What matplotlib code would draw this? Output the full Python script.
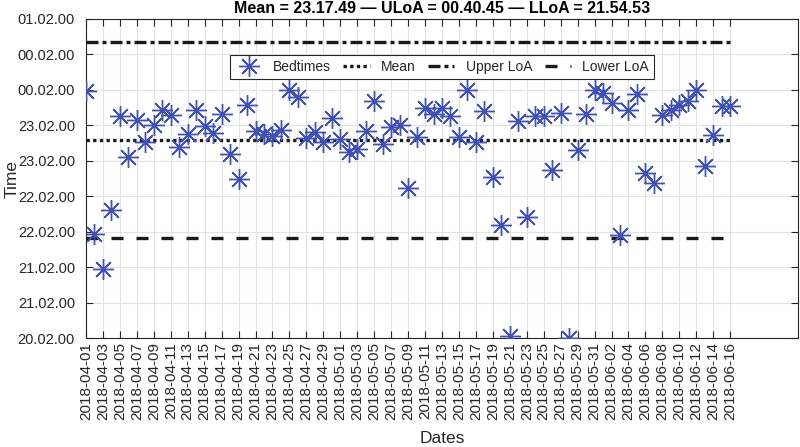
import numpy as np
import matplotlib
matplotlib.use("Agg")
import matplotlib.pyplot as plt
import matplotlib.dates as mdates

plt.rcParams['font.family'] = ['Liberation Sans', 'DejaVu Sans']

# ---- data ----
start_date = np.datetime64('2018-04-01')
end_date = np.datetime64('2018-06-16')
dates = np.arange(start_date, end_date + np.timedelta64(1, 'D'))

# bedtime in hours (values >= 24 are after midnight)
bedtimes = [
    23.98, 21.97, 21.48, 22.31, 23.63, 23.06, 23.58, 23.26, 23.51, 23.72,
    23.65, 23.20, 23.38, 23.72, 23.49, 23.385, 23.66, 23.09, 22.75, 23.785,
    23.42, 23.38, 23.35, 23.44, 24.00, 23.90, 23.32, 23.40, 23.27, 23.60,
    23.31, 23.13, 23.16, 23.42, 23.85, 23.23, 23.47, 23.50, 22.62, 23.33,
    23.74, 23.66, 23.75, 23.63, 23.34, 24.00, 23.27, 23.70, 22.77, 22.09,
    20.53, 23.56, 22.20, 23.63, 23.63, 22.87, 23.68, 20.50, 23.15, 23.66,
    24.00, 23.96, 23.82, 21.95, 23.71, 23.94, 22.83, 22.69, 23.64, 23.72,
    23.78, 23.84, 24.00, 22.93, 23.36, 23.77, 23.77,
]

mean_val = 23 + 17/60 + 49/3600      # 23:17:49
uloa_val = 24 + 40/60 + 45/3600      # 00:40:45
lloa_val = 21 + 54/60 + 53/3600      # 21:54:53

ytick_vals = [20.5, 21.0, 21.5, 22.0, 22.5, 23.0, 23.5, 24.0, 24.5, 25.0]
ytick_labels = ["20.02.00", "21.02.00", "21.02.00", "22.02.00", "22.02.00",
                "23.02.00", "23.02.00", "00.02.00", "00.02.00", "01.02.00"]

title_text = "Mean = 23.17.49 \u2014 ULoA = 00.40.45 \u2014 LLoA = 21.54.53"

# ---- figure ----
fig = plt.figure(figsize=(8.0, 4.47), dpi=100)
ax = fig.add_axes([86/800, 1 - 338/447, (798 - 86)/800, (338 - 19)/447])

txt_col = '#262626'
blue = '#4051b5'

x = mdates.date2num(dates.astype('datetime64[D]').astype(object))
x_line = [x[0], x[-1]]

ax.plot(x, bedtimes, linestyle='none', marker=(8, 2, 0), markersize=15,
        markeredgewidth=1.0, color=blue, label='Bedtimes', zorder=4)
ax.plot(x_line, [mean_val, mean_val], color='#1a1a1a', lw=2.4,
        linestyle=(0, (1.0, 1.0)), label='Mean', zorder=3)
ax.plot(x_line, [uloa_val, uloa_val], color='#1a1a1a', lw=2.4,
        linestyle=(0, (3.6, 1.2, 1.2, 1.2)), label='Upper LoA', zorder=3)
ax.plot(x_line, [lloa_val, lloa_val], color='#1a1a1a', lw=2.4,
        linestyle=(0, (3.6, 3.9)), label='Lower LoA', zorder=3)

ax.set_xlim(x[0], x[0] + 84)
ax.set_ylim(20.5, 25.0)

xt = x[::2]
xt_labels = [str(d) for d in dates[::2]]
ax.set_xticks(xt)
ax.set_xticklabels(xt_labels, rotation=90, fontsize=11, color=txt_col)
ax.set_yticks(ytick_vals)
ax.set_yticklabels(ytick_labels, fontsize=10.5, color=txt_col)

ax.tick_params(axis='both', direction='in', top=True, right=True,
               length=5, width=0.8, color=txt_col)
ax.tick_params(axis='x', pad=3)
ax.tick_params(axis='y', pad=8)

ax.grid(True, color='#e3e3e3', linewidth=0.8, zorder=0)
ax.set_axisbelow(True)
for s in ax.spines.values():
    s.set_color(txt_col)
    s.set_linewidth(0.8)

ax.set_xlabel('Dates', fontsize=12.5, color=txt_col, labelpad=8)
ax.set_ylabel('Time', fontsize=12.5, color=txt_col, va='center')
ax.yaxis.set_label_coords(-0.104, 0.5)
ax.set_title(title_text, fontsize=11.5, fontweight='bold', color='#000000', pad=4)

leg = ax.legend(loc='upper center', bbox_to_anchor=(0.5, 0.886), ncol=4,
                fontsize=10, frameon=True, fancybox=False, handlelength=1.9,
                columnspacing=0.9, handletextpad=0.8, borderpad=0.35,
                borderaxespad=0.0)
leg.get_frame().set_edgecolor('#262626')
leg.get_frame().set_linewidth(0.8)
leg.get_frame().set_alpha(1.0)
for t in leg.get_texts():
    t.set_color(txt_col)

fig.savefig('out.png', dpi=100)
